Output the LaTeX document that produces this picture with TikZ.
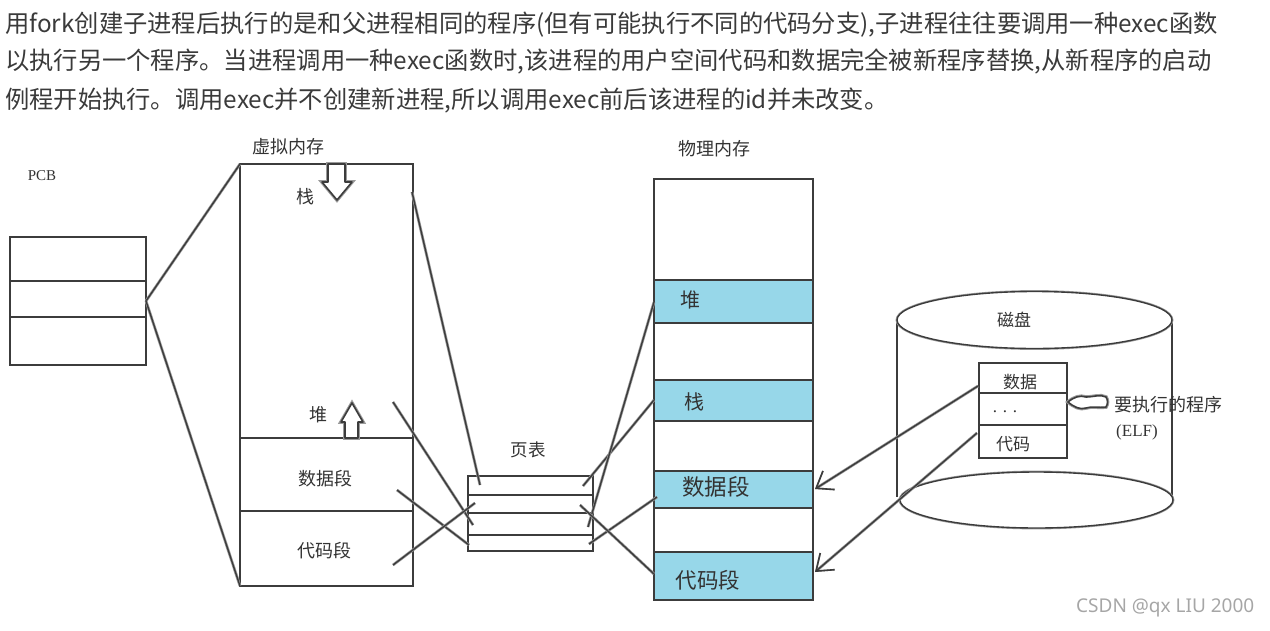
\documentclass[tikz,border=0pt]{standalone}
\usepackage{fontspec}
\setmainfont{Noto Sans CJK SC}
\newfontfamily\serifl{Liberation Serif}
\newfontfamily\wmfont{Noto Sans}
\usetikzlibrary{arrows.meta,shapes.geometric}
\definecolor{bandblue}{HTML}{97D7E9}
\definecolor{inkdark}{HTML}{3C3C3C}
\definecolor{inkhalo}{HTML}{9A9A9A}
\definecolor{headtext}{HTML}{3A3A3A}
\tikzset{
  sketch/.style={draw=inkdark,line width=1.4pt,preaction={draw=inkhalo,line width=2.8pt}},
  sketchbox/.style={sketch,rectangle,inner sep=0pt,outer sep=0pt},
  band/.style={fill=bandblue,draw=none,rectangle,inner sep=0pt,outer sep=0pt},
  lbl/.style={font=\fontsize{18}{20}\selectfont,text=black!80,inner sep=0pt},
  headline/.style={anchor=west,font=\fontsize{24.3}{27}\selectfont,text=headtext,inner sep=0pt},
  openhead/.style={-{Straight Barb[length=15pt,width=22pt,line width=1.6pt]}},
  fatarrow/.style={draw=inkdark,line width=1.6pt,preaction={draw=inkhalo,line width=3.6pt},fill=white,line join=round},
}
\begin{document}
\begin{tikzpicture}[x=1pt,y=-1pt]
\useasboundingbox (0,0) rectangle (1270,630);
% heading
\node[headline] (h1) at (5,25) {用fork创建子进程后执行的是和父进程相同的程序(但有可能执行不同的代码分支),子进程往往要调用一种exec函数};
\node[headline] (h2) at (5,61) {以执行另一个程序。当进程调用一种exec函数时,该进程的用户空间代码和数据完全被新程序替换,从新程序的启动};
\node[headline] (h3) at (5,100) {例程开始执行。调用exec并不创建新进程,所以调用exec前后该进程的id并未改变。};
% PCB
\node[lbl,font=\serifl\fontsize{15}{17}\selectfont] (pcblabel) at (42,176) {PCB};
\node[sketchbox,minimum width=136pt,minimum height=128pt] (pcb) at (78,301) {};
\draw[sketch] (pcb.west |- 0,281) -- (pcb.east |- 0,281);
\draw[sketch] (pcb.west |- 0,317) -- (pcb.east |- 0,317);
% virtual memory
\node[lbl] (vmlabel) at (288,147) {虚拟内存};
\node[sketchbox,minimum width=173pt,minimum height=422pt] (vm) at (326.5,375) {};
\draw[sketch] (vm.west |- 0,438) -- (vm.east |- 0,438);
\draw[sketch] (vm.west |- 0,511) -- (vm.east |- 0,511);
\node[lbl] (vstack) at (305,197) {栈};
\node[lbl] (vheap) at (318,415) {堆};
\node[lbl] (vdata) at (325,479) {数据段};
\node[lbl] (vcode) at (324,551) {代码段};
\draw[fatarrow] (328,164) -- (345,164) -- (345,182) -- (352,182) -- (337,200) -- (322,182) -- (328,182) -- cycle;
\draw[fatarrow] (345,438) -- (358,438) -- (358,422) -- (363,422) -- (352,403) -- (341,422) -- (345,422) -- cycle;
\draw[sketch] (pcb.east) -- (vm.north west);
\draw[sketch] (pcb.east) -- (vm.south west);
% physical memory
\node[lbl] (pmlabel) at (714,149) {物理内存};
\node[band,minimum width=159pt,minimum height=43pt] (pheap) at (733.5,301.5) {};
\node[band,minimum width=159pt,minimum height=41pt] (pstack) at (733.5,400.5) {};
\node[band,minimum width=159pt,minimum height=37pt] (pdata) at (733.5,489.5) {};
\node[band,minimum width=159pt,minimum height=48pt] (pcode) at (733.5,576) {};
\node[sketchbox,minimum width=159pt,minimum height=421pt] (pm) at (733.5,389.5) {};
\foreach \yy in {280,323,380,421,471,508,552} \draw[sketch] (pm.west |- 0,\yy) -- (pm.east |- 0,\yy);
\node[lbl,font=\fontsize{20}{22}\selectfont] at (690,300) (ptxt1) {堆};
\node[lbl,font=\fontsize{20}{22}\selectfont] at (694,402) (ptxt2) {栈};
\node[lbl,font=\fontsize{22.5}{24}\selectfont] at (716,487) (ptxt3) {数据段};
\node[lbl,font=\fontsize{21.5}{24}\selectfont] at (708,580) (ptxt4) {代码段};
% page table
\node[lbl,font=\fontsize{17.5}{19}\selectfont] (ptlabel) at (528,450) {页表};
\node[sketchbox,minimum width=125pt,minimum height=75pt] (pt) at (530.5,513.5) {};
\foreach \yy in {495,513,535} \draw[sketch] (pt.west |- 0,\yy) -- (pt.east |- 0,\yy);
% connector ends
\coordinate (vs) at (412,192); \coordinate (ts) at (480,485);
\coordinate (vh) at (393,402); \coordinate (th) at (473,525);
\coordinate (vd) at (397,490); \coordinate (td) at (469,545);
\coordinate (vc) at (393,565); \coordinate (tc) at (475,503);
\coordinate (os) at (583,486); \coordinate (ps) at (654,400);
\coordinate (oh) at (588,527); \coordinate (ph) at (654,302);
\coordinate (od) at (589,544); \coordinate (pd) at (657,497);
\coordinate (oc) at (580,505); \coordinate (pc) at (654,574);
\foreach \a/\b in {vs/ts,vh/th,vd/td,vc/tc,os/ps,oh/ph,od/pd,oc/pc} \draw[sketch] (\a) -- (\b);
% disk
\draw[sketch] (897,320) -- (897,497);
\draw[sketch] (1172,320) -- (1172,497);
\node[sketch,ellipse,inner sep=0pt,outer sep=0pt,minimum width=275pt,minimum height=57pt,fill=white] (disktop) at (1034.5,320) {};
\node[sketch,ellipse,inner sep=0pt,outer sep=0pt,minimum width=273pt,minimum height=56pt,fill=white] (diskbot) at (1036.5,500) {};
\node[lbl,font=\fontsize{17}{19}\selectfont] (disklabel) at (1014,320) {磁盘};
\node[sketchbox,fill=white,minimum width=88pt,minimum height=95pt] (elf) at (1023,410.5) {};
\draw[sketch] (elf.west |- 0,393) -- (elf.east |- 0,393);
\draw[sketch] (elf.west |- 0,425) -- (elf.east |- 0,425);
\node[lbl,font=\fontsize{17}{19}\selectfont] (edata) at (1020,382) {数据};
\node[lbl,font=\serifl\fontsize{17}{19}\selectfont] (edots) at (1005,412) {. . .};
\node[lbl,font=\fontsize{17}{19}\selectfont] (ecode) at (1013,444) {代码};
\node[lbl,font=\fontsize{18}{20}\selectfont] (elflabel) at (1168,405) {要执行的程序};
\node[lbl,font=\serifl\fontsize{17}{19}\selectfont] (elfname) at (1137,432) {(ELF)};
\draw[fatarrow] (1068,402) .. controls (1074,397) and (1080,395) .. (1086,397) .. controls (1094,397) and (1100,394) .. (1106,397) .. controls (1108,400) and (1108,404) .. (1106,407) .. controls (1098,408) and (1092,406) .. (1086,408) .. controls (1080,410) and (1074,407) .. (1068,402) -- cycle;
\coordinate (ad) at (815,489);
\coordinate (ac) at (815,572);
\coordinate (ed) at (978,386);
\coordinate (ec) at (977,433);
\draw[sketch,openhead] (ed) -- (ad);
\draw[sketch,openhead] (ec) -- (ac);
% watermark
\node[anchor=west,inner sep=0pt,font=\wmfont\fontsize{19}{21}\selectfont,text=black!35] (wm) at (1076,608) {CSDN @qx LIU 2000};
\end{tikzpicture}
\end{document}
